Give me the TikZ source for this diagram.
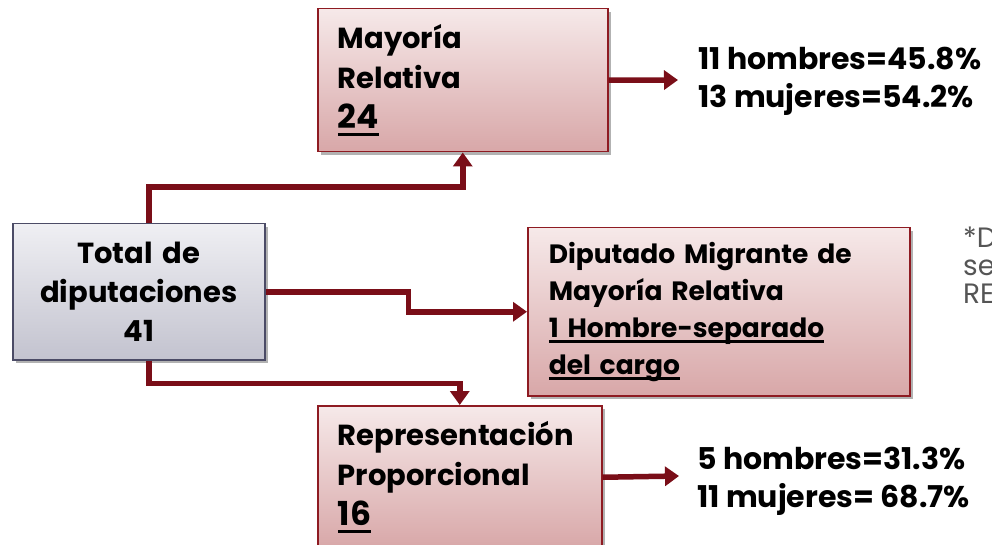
\documentclass[tikz,border=0pt]{standalone}
\usepackage{fontspec}
\setmainfont{Poppins}
\usetikzlibrary{arrows.meta,positioning,calc,shadows}

\definecolor{linkred}{HTML}{7A0E18}
\definecolor{boxred}{HTML}{8E1B22}
\definecolor{pinktop}{HTML}{F6E9E9}
\definecolor{pinkbot}{HTML}{D8A7A8}
\definecolor{graytop}{HTML}{EFEFF3}
\definecolor{graybot}{HTML}{C3C3CF}
\definecolor{grayline}{HTML}{4B4B66}
\definecolor{notegray}{HTML}{555555}

\newcommand\ulbar[2][-6pt]{\setbox0\hbox{#2}\leavevmode\rlap{\rule[#1]{\wd0}{3pt}}\box0}

\tikzset{
  redbox/.style={draw=boxred, line width=1.5pt, top color=pinktop, bottom color=pinkbot,
    drop shadow={shadow xshift=3pt, shadow yshift=-3pt, opacity=0.3, fill=black},
    anchor=north west, inner xsep=20pt, inner ysep=0pt, align=left, font=\bfseries},
  totbox/.style={draw=grayline, line width=1.5pt, top color=graytop, bottom color=graybot,
    drop shadow={shadow xshift=3pt, shadow yshift=-3pt, opacity=0.3, fill=black},
    anchor=north west, inner xsep=10pt, inner ysep=0pt, align=center, font=\bfseries},
  result/.style={anchor=west, align=left, inner sep=0pt,
    font=\fontsize{30}{38}\selectfont\bfseries},
  link/.style={draw=linkred, line width=5.5pt, -{Triangle[length=14pt,width=19pt]}}
}

\begin{document}
\begin{tikzpicture}[x=1pt,y=-1pt]
    \useasboundingbox (0,0) rectangle (992,545);
    % boxes
    \node[redbox, minimum width=290, minimum height=143, text width=250,
          font=\fontsize{29}{40}\selectfont\bfseries] (may) at (317,8)
          {Mayoría\\Relativa\\\ulbar[-7pt]{\fontsize{33}{40}\selectfont 24}};
    \node[totbox, minimum width=252, minimum height=136, text width=232,
          font=\fontsize{29}{39}\selectfont\bfseries] (tot) at (12,223)
          {Total de\\diputaciones\\41};
    \node[redbox, minimum width=381, minimum height=168, text width=340, inner xsep=21,
          font=\fontsize{26.5}{37}\selectfont\bfseries] (mig) at (527,227)
          {Diputado Migrante de\\Mayoría Relativa\\\ulbar{1 Hombre-separado}\\\ulbar{del cargo}};
    \node[redbox, minimum width=284, minimum height=143, text width=244,
          font=\fontsize{29}{40}\selectfont\bfseries] (rp) at (317,405)
          {Representación\\Proporcional\\\ulbar[-7pt]{\fontsize{33}{40}\selectfont 16}};
    % results
    \node[result] (mayres) at (698,81) {11 hombres=45.8\%\\13 mujeres=54.2\%};
    \node[result] (rpres) at (697,481) {5 hombres=31.3\%\\11 mujeres= 68.7\%};
    \node[anchor=west, align=left, inner sep=0pt, text=notegray,
          font=\fontsize{28}{28}\selectfont] (note) at (963,265) {*D\\se\\RE};
    % connectors
    \coordinate (mayend) at (678,80);
    \coordinate (rpend) at (679,476);
    \draw[link] ($(tot.north)+(10,0)$) -- ++(0,-36) -| (may.south);
    \draw[link] (tot.east) -- ++(143,0) |- (mig.west);
    \draw[link] ($(tot.south)+(10,0)$) -- ++(0,23) -| (rp.north);
    \draw[link] (may.east) -- (mayend);
    \draw[link] (rp.east) -- (rpend);
\end{tikzpicture}
\end{document}
